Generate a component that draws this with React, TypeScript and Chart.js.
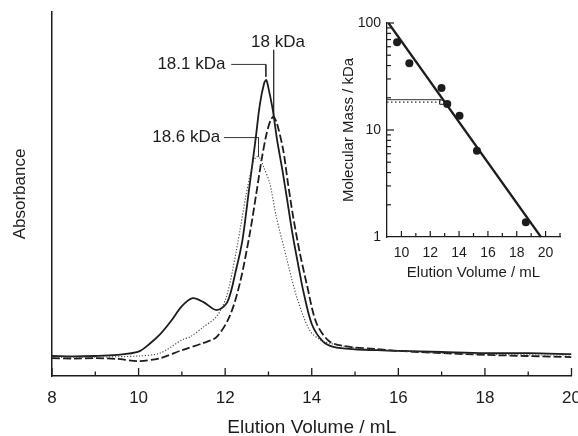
import React, { useEffect, useRef } from "react";
import { Chart, registerables } from "chart.js";

Chart.register(...registerables);

const FONT = "'Liberation Sans', Arial, Helvetica, sans-serif";
const INK = "#1c1c1c";

// ---- Main chromatogram (elution volume in mL, absorbance in arbitrary units) ----
const solidVolume = [8, 8.5, 9, 9.5, 10, 10.25, 10.5, 10.75, 11, 11.25, 11.5, 11.8, 12.05, 12.25, 12.4, 12.55, 12.7, 12.8, 12.9, 12.95, 13.0, 13.1, 13.2, 13.33, 13.45, 13.56, 13.7, 13.8, 14.0, 14.25, 14.5, 15, 15.5, 16, 17, 18, 19, 20];
const solidAbs = [0.055, 0.054, 0.055, 0.058, 0.067, 0.088, 0.115, 0.151, 0.192, 0.214, 0.203, 0.181, 0.203, 0.291, 0.374, 0.511, 0.648, 0.745, 0.804, 0.813, 0.791, 0.731, 0.648, 0.56, 0.47, 0.387, 0.297, 0.236, 0.143, 0.096, 0.08, 0.073, 0.071, 0.069, 0.066, 0.063, 0.063, 0.06];

const dashedVolume = [8, 8.5, 9, 9.5, 10, 10.5, 11, 11.5, 11.8, 12.1, 12.34, 12.57, 12.72, 12.84, 12.95, 13.05, 13.12, 13.2, 13.34, 13.45, 13.57, 13.72, 13.88, 14.11, 14.42, 14.88, 15.5, 16, 17, 18, 19, 20];
const dashedAbs = [0.049, 0.048, 0.049, 0.047, 0.041, 0.049, 0.071, 0.091, 0.107, 0.163, 0.255, 0.392, 0.502, 0.593, 0.662, 0.703, 0.712, 0.692, 0.621, 0.53, 0.438, 0.341, 0.255, 0.145, 0.094, 0.08, 0.074, 0.069, 0.063, 0.058, 0.055, 0.052];

const dottedVolume = [8, 9, 10, 10.5, 11, 11.2, 11.5, 11.8, 12.03, 12.26, 12.49, 12.64, 12.72, 12.8, 12.9, 13.03, 13.18, 13.41, 13.65, 13.95, 14.2, 14.42, 15, 16, 17, 18, 19, 20];
const dottedAbs = [0.052, 0.052, 0.055, 0.063, 0.099, 0.108, 0.135, 0.163, 0.218, 0.346, 0.502, 0.584, 0.602, 0.599, 0.571, 0.53, 0.438, 0.328, 0.218, 0.126, 0.099, 0.09, 0.077, 0.069, 0.063, 0.06, 0.058, 0.058];

const mainXTicks = [8, 10, 12, 14, 16, 18, 20];
const mainXMinorTicks = [9, 11, 13, 15, 17, 19];

// peak annotations
const peakLabels = ["18 kDa", "18.1 kDa", "18.6 kDa"];
const peakLabelVolume = [13.22, 11.22, 11.1];
const peakLabelAbs = [0.916, 0.856, 0.655];
const leader18Volume = [13.12, 13.12];
const leader18Abs = [0.896, 0.712];
const leader181Volume = [12.14, 12.94, 12.94];
const leader181Abs = [0.856, 0.856, 0.822];
const leader186Volume = [11.97, 12.77, 12.77];
const leader186Abs = [0.655, 0.655, 0.602];

// ---- Inset calibration (elution volume vs molecular mass) ----
const standardVolume = [9.7, 10.55, 12.78, 13.18, 14.03, 15.24, 18.63];
const standardMass = [66, 42, 24.7, 17.5, 13.6, 6.4, 1.37];
const fitVolume = [9.1, 19.68];
const fitMass = [100, 1];
const sampleVolume = [12.8];
const sampleMass = [18.2];
const guideSolidVolume = [9, 12.76];
const guideSolidMass = [19.2, 19.2];
const guideDottedVolume = [9, 12.7];
const guideDottedMass = [18.2, 18.2];

const insetXTicks = [10, 12, 14, 16, 18, 20];
const insetXMinorTicks = [11, 13, 15, 17, 19, 21];
const insetYTicks = [1, 10, 100];
const insetYMajorInner = [10, 100];
const insetYMinorTicks = [2, 3, 4, 5, 6, 7, 8, 9, 20, 30, 40, 50, 60, 70, 80, 90];

const pts = (xs: number[], ys: number[]) => xs.map((x, i) => ({ x, y: ys[i] }));

const innerTicksPlugin = {
  id: "innerTicks",
  afterDatasetsDraw(chart: any, _args: any, opts: any) {
    const { ctx, chartArea } = chart;
    ctx.save();
    ctx.strokeStyle = INK;
    ctx.lineWidth = opts.width || 1.3;
    for (const s of opts.axes || []) {
      const scale = chart.scales[s.id];
      const draw = (vals: number[], len: number) =>
        vals.forEach((v) => {
          const p = scale.getPixelForValue(v);
          ctx.beginPath();
          if (scale.isHorizontal()) {
            ctx.moveTo(p, chartArea.bottom);
            ctx.lineTo(p, chartArea.bottom - len);
          } else {
            ctx.moveTo(chartArea.left, p);
            ctx.lineTo(chartArea.left + len, p);
          }
          ctx.stroke();
        });
      draw(s.major, s.majorLen);
      draw(s.minor, s.minorLen);
    }
    ctx.restore();
  },
};

const peakTextPlugin = {
  id: "peakText",
  afterDatasetsDraw(chart: any) {
    const { ctx } = chart;
    const xs = chart.scales.x;
    const ys = chart.scales.y;
    ctx.save();
    ctx.fillStyle = INK;
    ctx.font = `17px ${FONT}`;
    ctx.textAlign = "center";
    ctx.textBaseline = "middle";
    peakLabels.forEach((t, i) => {
      ctx.fillText(t, xs.getPixelForValue(peakLabelVolume[i]), ys.getPixelForValue(peakLabelAbs[i]));
    });
    ctx.restore();
  },
};

export default function App() {
  const mainRef = useRef<HTMLCanvasElement>(null);
  const insetRef = useRef<HTMLCanvasElement>(null);

  useEffect(() => {
    const leader = (xs: number[], ys: number[]) => ({
      data: pts(xs, ys),
      borderColor: "#333",
      borderWidth: 1,
      pointRadius: 0,
      fill: false,
      tension: 0,
    });
    const main = new Chart(mainRef.current!, {
      type: "line",
      data: {
        datasets: [
          { data: pts(dottedVolume, dottedAbs), borderColor: "#444", borderWidth: 1.1, borderDash: [1.2, 1.8], pointRadius: 0, tension: 0.3 },
          { data: pts(dashedVolume, dashedAbs), borderColor: INK, borderWidth: 1.8, borderDash: [8, 3], pointRadius: 0, tension: 0.3 },
          { data: pts(solidVolume, solidAbs), borderColor: INK, borderWidth: 1.8, pointRadius: 0, tension: 0.3 },
          leader(leader18Volume, leader18Abs),
          leader(leader181Volume, leader181Abs),
          leader(leader186Volume, leader186Abs),
        ] as any,
      },
      options: {
        animation: false,
        responsive: false,
        devicePixelRatio: 1,
        layout: { padding: { top: 12, right: 6.5, left: 0, bottom: 0 } },
        plugins: {
          legend: { display: false },
          tooltip: { enabled: false },
          innerTicks: {
            width: 1.3,
            axes: [{ id: "x", major: mainXTicks, minor: mainXMinorTicks, majorLen: 8, minorLen: 4.5 }],
          },
        } as any,
        scales: {
          x: {
            type: "linear",
            min: 8,
            max: 20,
            afterBuildTicks: (s: any) => {
              s.ticks = mainXTicks.map((v) => ({ value: v }));
            },
            afterFit: (s: any) => {
              s.height = 60;
              s.paddingLeft = 0;
              s.paddingRight = 0;
            },
            grid: { display: false, drawTicks: false },
            border: { display: true, color: INK, width: 1.5 },
            ticks: { color: INK, font: { family: FONT, size: 17 }, padding: 12, maxRotation: 0, autoSkip: false, callback: (v: any) => String(v) },
            title: { display: true, text: "Elution Volume / mL", color: INK, font: { family: FONT, size: 19 }, padding: { top: 0, bottom: -3 } },
          },
          y: {
            type: "linear",
            min: 0,
            max: 1,
            afterFit: (s: any) => {
              s.width = 52;
            },
            grid: { display: false, drawTicks: false },
            border: { display: true, color: INK, width: 1.5 },
            ticks: { display: false },
            title: { display: true, text: "Absorbance", color: INK, font: { family: FONT, size: 17 }, padding: { top: 10, bottom: 0 } },
          },
        },
      } as any,
      plugins: [innerTicksPlugin, peakTextPlugin],
    });

    const inset = new Chart(insetRef.current!, {
      type: "line",
      data: {
        datasets: [
          { data: pts(guideSolidVolume, guideSolidMass), borderColor: "#333", borderWidth: 1, pointRadius: 0 },
          { data: pts(guideDottedVolume, guideDottedMass), borderColor: "#333", borderWidth: 1.2, borderDash: [1.5, 2.5], pointRadius: 0 },
          { data: pts(fitVolume, fitMass), borderColor: INK, borderWidth: 2.2, pointRadius: 0, clip: false },
          { data: pts(standardVolume, standardMass), showLine: false, pointRadius: 4, pointBackgroundColor: INK, pointBorderColor: INK, pointBorderWidth: 0 },
          { data: pts(sampleVolume, sampleMass), showLine: false, pointStyle: "rect", pointRadius: 3, pointBackgroundColor: "#fff", pointBorderColor: INK, pointBorderWidth: 1 },
        ] as any,
      },
      options: {
        animation: false,
        responsive: false,
        devicePixelRatio: 1,
        layout: { padding: { top: 23, right: 10, left: 0, bottom: 0 } },
        plugins: {
          legend: { display: false },
          tooltip: { enabled: false },
          innerTicks: {
            width: 1.2,
            axes: [
              { id: "x", major: insetXTicks, minor: insetXMinorTicks, majorLen: 6, minorLen: 4 },
              { id: "y", major: insetYMajorInner, minor: insetYMinorTicks, majorLen: 7, minorLen: 4 },
            ],
          },
        } as any,
        scales: {
          x: {
            type: "linear",
            min: 9,
            max: 21,
            afterBuildTicks: (s: any) => {
              s.ticks = insetXTicks.map((v) => ({ value: v }));
            },
            afterFit: (s: any) => {
              s.height = 49;
              s.paddingLeft = 0;
              s.paddingRight = 0;
            },
            grid: { display: false, drawTicks: false },
            border: { display: true, color: INK, width: 1.3 },
            ticks: { color: INK, font: { family: FONT, size: 14 }, padding: 8, maxRotation: 0, autoSkip: false, callback: (v: any) => String(v) },
            title: { display: true, text: "Elution Volume / mL", color: INK, font: { family: FONT, size: 15 }, padding: { top: 0, bottom: 4 } },
          },
          y: {
            type: "logarithmic",
            min: 1,
            max: 100,
            afterBuildTicks: (s: any) => {
              s.ticks = insetYTicks.map((v) => ({ value: v }));
            },
            afterFit: (s: any) => {
              s.width = 51;
              s.paddingTop = 0;
              s.paddingBottom = 0;
            },
            grid: { display: false, drawTicks: false },
            border: { display: true, color: INK, width: 1.3 },
            ticks: { color: INK, font: { family: FONT, size: 14 }, padding: 6, autoSkip: false, callback: (v: any) => String(v) },
            title: { display: true, text: "Molecular Mass / kDa", color: INK, font: { family: FONT, size: 15 }, padding: { top: 4, bottom: 0 } },
          },
        },
      } as any,
      plugins: [innerTicksPlugin],
    });

    return () => {
      main.destroy();
      inset.destroy();
    };
  }, []);

  return (
    <div style={{ position: "absolute", left: 0, top: 0, width: 578, height: 436, background: "#fff" }}>
      <canvas ref={mainRef} width={578} height={436} style={{ position: "absolute", left: 0, top: 0, width: 578, height: 436 }} />
      <canvas ref={insetRef} width={234} height={286} style={{ position: "absolute", left: 336, top: 0, width: 234, height: 286 }} />
    </div>
  );
}
